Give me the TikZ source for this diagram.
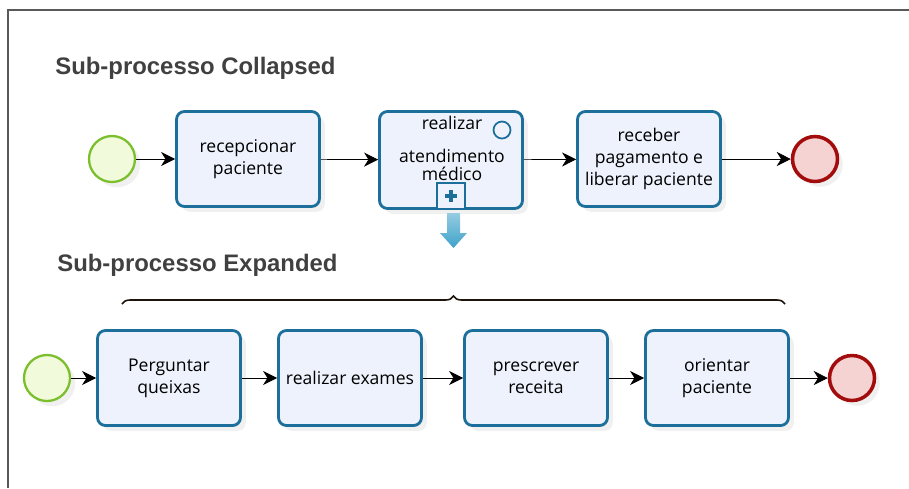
\documentclass[tikz,border=0pt]{standalone}
\usepackage{fontspec}
\setmainfont{Open Sans}
\newfontfamily\titlefont{Liberation Sans}
\usepackage{tikz}
\usetikzlibrary{shapes, calc, arrows.meta, shadows, decorations.pathreplacing}

\definecolor{taskline}{HTML}{1B6F9A}
\definecolor{taskfill}{HTML}{EEF2FC}
\definecolor{startline}{HTML}{7CBF2C}
\definecolor{startfill}{HTML}{F2FADC}
\definecolor{endline}{HTML}{A30C0C}
\definecolor{endfill}{HTML}{F5D3D3}
\definecolor{titlegray}{HTML}{404040}
\definecolor{bluearrow}{HTML}{3FA2CA}

\begin{document}
\begin{tikzpicture}[x=0.02cm, y=-0.02cm,
						task/.style={rectangle, rounded corners=4.5pt, draw=taskline, line width=1.6pt,
							fill=taskfill, minimum width=2.86cm, minimum height=1.9cm, align=center,
							font=\fontsize{10}{12.5}\selectfont,
							drop shadow={opacity=0.12, shadow xshift=3pt, shadow yshift=-3pt}},
						startev/.style={circle, draw=startline, line width=1.3pt, fill=startfill,
							minimum size=0.92cm, drop shadow={opacity=0.12, shadow xshift=3pt, shadow yshift=-3pt}},
						endev/.style={circle, draw=endline, line width=2pt, fill=endfill,
							minimum size=0.9cm, drop shadow={opacity=0.12, shadow xshift=3pt, shadow yshift=-3pt}},
						heading/.style={anchor=west, inner sep=0pt, text=titlegray, font=\titlefont\bfseries\fontsize{13.6}{16}\selectfont},
						every path/.style={>={Stealth[length=8pt, width=8pt, inset=2.5pt]}}]
					\useasboundingbox (0,0) rectangle (909,488);
					\draw[gray!70!black, line width=0.6pt] (8,488) -- (8,10) -- (909,10);

					\node[heading] (H1) at (55,68) {Sub-processo Collapsed};
					\node[startev] (S1) at (112,159) {};
					\node[task] (A1) at (248,159) {recepcionar\\paciente};
					\node[task, minimum height=1.94cm] (A2) at (451,160) {};
					\node[align=center, font=\fontsize{10}{10}\selectfont] (A2t) at (452,148) {realizar\\[9pt]atendimento\\médico};
					\node[circle, draw=taskline, line width=1pt, minimum size=0.34cm, inner sep=0pt] (A2m) at (502,130) {};
					\node[rectangle, draw=taskline, line width=1.2pt, fill=taskfill, minimum width=0.56cm,
						minimum height=0.52cm, inner sep=0pt, anchor=south] (A2p) at (A2.south) {};
					\draw[taskline, line width=2.6pt] ($(A2p.center)+(-6,0)$) -- ($(A2p.center)+(6,0)$)
						($(A2p.center)+(0,-6)$) -- ($(A2p.center)+(0,6)$);
					\node[task] (A3) at (649,159) {receber\\pagamento e\\liberar paciente};
					\node[endev] (E1) at (815,159) {};

					\path [->] (S1) edge (A1);
					\path [->] (A1) edge (A2);
					\path [->] (A2) edge (A3);
					\path [->] (A3) edge (E1);

					\shade[top color=bluearrow!55, bottom color=bluearrow, draw=none]
						(447,213) -- (460,213) -- (460,233) -- (467,233) -- (453.5,248) -- (440,233) -- (447,233) -- cycle;

					\node[heading] (H2) at (57,265) {Sub-processo Expanded};
					\draw[black!85!brown, line width=0.9pt, decorate, decoration={brace, amplitude=0.16cm}]
						(122,304) -- (785,304);

					\node[startev] (S2) at (47,378) {};
					\node[task] (B1) at (169,378) {Perguntar\\queixas};
					\node[task] (B2) at (350,378) {realizar exames};
					\node[task] (B3) at (536,378) {prescrever\\receita};
					\node[task] (B4) at (717,378) {orientar\\paciente};
					\node[endev] (E2) at (852,378) {};

					\path [->] (S2) edge (B1);
					\path [->] (B1) edge (B2);
					\path [->] (B2) edge (B3);
					\path [->] (B3) edge (B4);
					\path [->] (B4) edge (E2);
				\end{tikzpicture}
\end{document}
